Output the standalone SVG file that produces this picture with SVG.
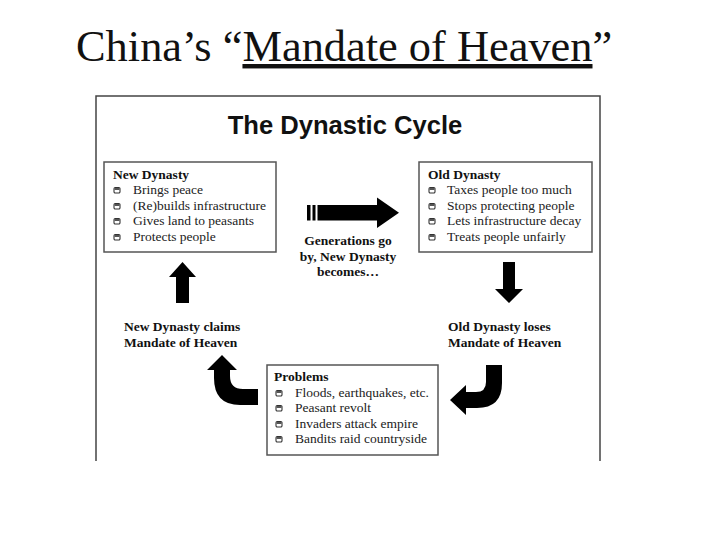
<svg xmlns="http://www.w3.org/2000/svg" xmlns:xlink="http://www.w3.org/1999/xlink" width="720" height="540" viewBox="0 0 720 540">
<style>
.serif{font-family:"Liberation Serif","Times New Roman",serif;fill:#111}
.hd{font-family:"Liberation Serif","Times New Roman",serif;font-weight:bold;font-size:13.5px;fill:#111}
.it{font-family:"Liberation Serif","Times New Roman",serif;font-size:13.5px;fill:#222}
.box{fill:#fff;stroke:#555;stroke-width:1.5}
.arw{fill:#000}
</style>
<defs>
<g id="bul">
<rect x="-3" y="-3.5" width="6" height="5.5" rx="1.2" fill="#fff" stroke="#333" stroke-width="1.1"/>
<rect x="-2.5" y="-3" width="5" height="2" fill="#555"/>
</g>
</defs>
<rect width="720" height="540" fill="#fff"/>
<text class="serif" x="76" y="61" font-size="44.4">China’s “<tspan text-decoration="underline" style="text-decoration-thickness:3px">Mandate of Heaven</tspan>”</text>
<path d="M96,461 L96,96 L600,96 L600,461" fill="none" stroke="#444" stroke-width="1.5"/>
<text x="345" y="134" text-anchor="middle" font-family="Liberation Sans, Arial, sans-serif" font-weight="bold" font-size="25.6" fill="#111">The Dynastic Cycle</text>

<g id="new-dynasty">
<rect class="box" x="104" y="162" width="172" height="90"/>
<text class="hd" x="113" y="179">New Dynasty</text>
<use xlink:href="#bul" x="117" y="191"/>
<use xlink:href="#bul" x="117" y="207"/>
<use xlink:href="#bul" x="117" y="222"/>
<use xlink:href="#bul" x="117" y="238"/>
<text class="it" x="133" y="194">Brings peace</text>
<text class="it" x="133" y="210">(Re)builds infrastructure</text>
<text class="it" x="133" y="225">Gives land to peasants</text>
<text class="it" x="133" y="241">Protects people</text>
</g>

<g id="old-dynasty">
<rect class="box" x="419" y="162" width="173" height="90"/>
<text class="hd" x="428" y="179">Old Dynasty</text>
<use xlink:href="#bul" x="432" y="191"/>
<use xlink:href="#bul" x="432" y="207"/>
<use xlink:href="#bul" x="432" y="222"/>
<use xlink:href="#bul" x="432" y="238"/>
<text class="it" x="447" y="194">Taxes people too much</text>
<text class="it" x="447" y="210">Stops protecting people</text>
<text class="it" x="447" y="225">Lets infrastructure decay</text>
<text class="it" x="447" y="241">Treats people unfairly</text>
</g>

<g id="problems">
<rect class="box" x="267" y="365" width="171" height="90"/>
<text class="hd" x="274" y="381">Problems</text>
<use xlink:href="#bul" x="279" y="394"/>
<use xlink:href="#bul" x="279" y="409"/>
<use xlink:href="#bul" x="279" y="425"/>
<use xlink:href="#bul" x="279" y="440"/>
<text class="it" x="295" y="397">Floods, earthquakes, etc.</text>
<text class="it" x="295" y="412">Peasant revolt</text>
<text class="it" x="295" y="428">Invaders attack empire</text>
<text class="it" x="295" y="443">Bandits raid countryside</text>
</g>

<g id="generations">
<text class="hd" x="348" y="245" text-anchor="middle">Generations go</text>
<text class="hd" x="348" y="261" text-anchor="middle">by, New Dynasty</text>
<text class="hd" x="348" y="276" text-anchor="middle">becomes…</text>
</g>

<g id="new-claims">
<text class="hd" x="124" y="331">New Dynasty claims</text>
<text class="hd" x="124" y="347">Mandate of Heaven</text>
</g>

<g id="old-loses">
<text class="hd" x="448" y="331">Old Dynasty loses</text>
<text class="hd" x="448" y="347">Mandate of Heaven</text>
</g>

<g id="connectors" class="arw">
<rect x="307" y="205" width="3.5" height="15.5"/>
<rect x="312.5" y="205" width="3" height="15.5"/>
<path d="M317.5,205 L377,205 L377,197.5 L399,212.7 L377,228 L377,220.5 L317.5,220.5 Z"/>
<path d="M503,262 L515,262 L515,289 L523,289 L509,303 L495,289 L503,289 Z"/>
<path d="M182.5,262 L196,277 L189,277 L189,303 L176,303 L176,277 L169,277 Z"/>
<path d="M222,355 L237,370 L230,370 L230,376 Q230,389 243,389 L258,389 L258,405 L240,405 Q214,405 214,378 L214,370 L207,370 Z"/>
<path d="M486,365 L502,365 L502,383 Q502,408 477,408 L466,408 L466,415 L450,400 L466,385 L466,392 L476,392 Q486,392 486,382 Z"/>
</g>
</svg>
